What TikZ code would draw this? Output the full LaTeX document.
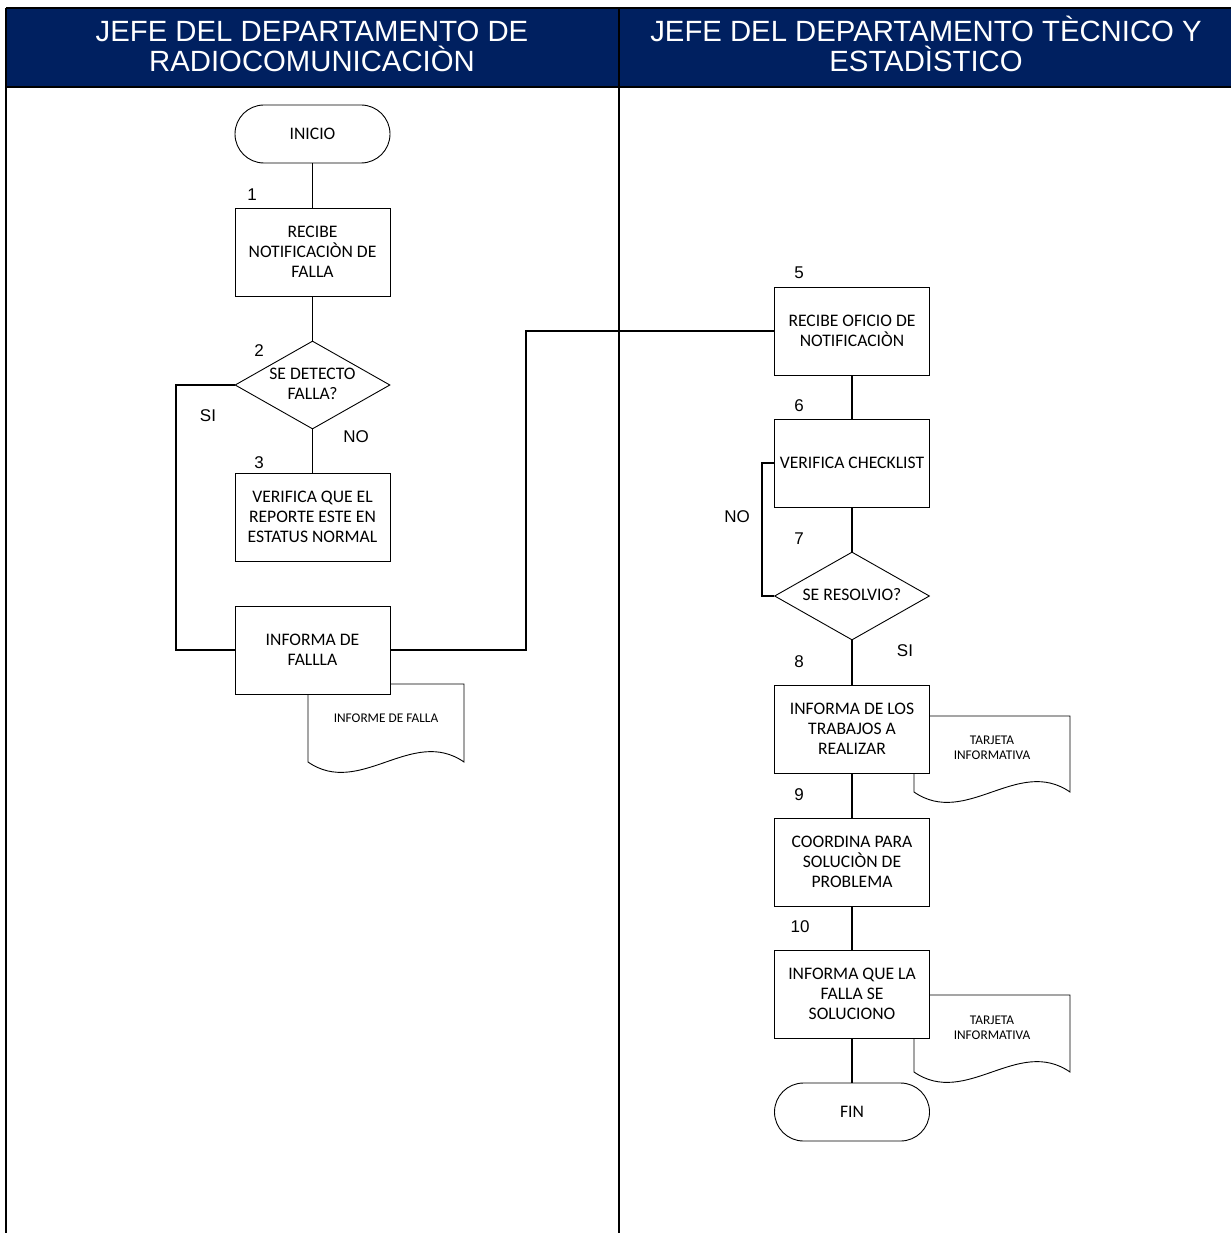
\documentclass[tikz,border=0pt]{standalone}
\usepackage{fontspec}
\setmainfont{Carlito}
\newfontfamily\arialf{Liberation Sans}
\usetikzlibrary{shapes.geometric}
\definecolor{navy}{RGB}{0,32,96}
\begin{document}
\begin{tikzpicture}[x=1pt,y=-1pt,
  lane/.style={line width=1.6pt,draw=black},
  box/.style={draw,line width=0.9pt,fill=white,minimum width=155pt,minimum height=88pt,inner sep=0pt,align=center,font=\fontsize{17.6}{20}\selectfont},
  term/.style={draw,line width=0.9pt,fill=white,rounded corners=29pt,minimum width=155pt,minimum height=58pt,inner sep=0pt,align=center,font=\fontsize{17.6}{20}\selectfont},
  dec/.style={draw,line width=0.9pt,fill=white,diamond,aspect=1.76,minimum width=155pt,minimum height=88pt,inner sep=0pt},
  txt/.style={align=center,inner sep=0pt,font=\fontsize{17.6}{20}\selectfont},
  num/.style={inner sep=0pt,font=\arialf\fontsize{17}{20}\selectfont},
  doctxt/.style={align=center,inner sep=0pt,font=\fontsize{13.3}{15}\selectfont},
  docshape/.style={draw,line width=0.9pt,fill=white},
  conn/.style={line width=1.6pt,draw=black},
  hdr/.style={align=center,inner sep=0pt,text=white,font=\arialf\fontsize{29.3}{30}\selectfont}
]
\useasboundingbox (0,0) rectangle (1231,1233);
% header
\fill[navy] (6,8) rectangle (1231,87);
\draw[lane] (6,8) -- (1231,8);
\draw[lane] (6,87) -- (1231,87);
\draw[lane] (6,8) -- (6,1233);
\draw[lane] (619,8) -- (619,1233);
\node[hdr] (h1) at (312,46.5) {JEFE DEL DEPARTAMENTO DE\\RADIOCOMUNICACIÒN};
\node[hdr] (h2) at (926,44) {JEFE DEL DEPARTAMENTO TÈCNICO Y\\ESTADÌSTICO};

% document shapes (behind boxes)
\draw[docshape] (308,684) -- (464,684) -- (464,762) .. controls (412,726) and (360,798) .. (308,762) -- cycle;
\node[doctxt] (doc4) at (386,718) {INFORME DE FALLA};
\draw[docshape] (914,716) -- (1070,716) -- (1070,792) .. controls (1018,756) and (966,828) .. (914,792) -- cycle;
\node[doctxt] (doc8) at (992,748) {TARJETA\\INFORMATIVA};
\draw[docshape] (914,995) -- (1070,995) -- (1070,1072) .. controls (1018,1036) and (966,1108) .. (914,1072) -- cycle;
\node[doctxt] (doc10) at (992,1028) {TARJETA\\INFORMATIVA};

% left lane
\node[term] (ini) at (312.5,134) {INICIO};
\node[box] (b1) at (312.5,252) {RECIBE\\NOTIFICACIÒN DE\\FALLA};
\node[dec] (d2) at (312.5,385) {};
\node[txt] (t2) at (312.5,384) {SE DETECTO\\FALLA?};
\node[box] (b3) at (312.5,517) {VERIFICA QUE EL\\REPORTE ESTE EN\\ESTATUS NORMAL};
\node[box] (b4) at (312.5,650) {INFORMA DE\\FALLLA};

\node[num] (n1) at (252,195) {1};
\node[num] (n2) at (259,351) {2};
\node[num] (n3) at (259,463) {3};
\node[num] (si1) at (208,416) {SI};
\node[num] (no1) at (356,437) {NO};

% right lane
\node[box] (b5) at (852,331) {RECIBE OFICIO DE\\NOTIFICACIÒN};
\node[box] (b6) at (852,463) {VERIFICA CHECKLIST};
\node[dec] (d7) at (852,596) {};
\node[txt] (t7) at (852,595) {SE RESOLVIO?};
\node[box] (b8) at (852,729) {INFORMA DE LOS\\TRABAJOS A\\REALIZAR};
\node[box] (b9) at (852,862) {COORDINA PARA\\SOLUCIÒN DE\\PROBLEMA};
\node[box] (b10) at (852,994) {INFORMA QUE LA\\FALLA SE\\SOLUCIONO};
\node[term] (fin) at (852,1112) {FIN};

\node[num] (n5) at (799,273) {5};
\node[num] (n6) at (799,406) {6};
\node[num] (n7) at (799,539) {7};
\node[num] (n8) at (799,662) {8};
\node[num] (n9) at (799,795) {9};
\node[num] (n10) at (800,927) {10};
\node[num] (no7) at (737,517) {NO};
\node[num] (si7) at (905,651) {SI};

% connectors
\coordinate (c1) at (176,385);
\coordinate (c2) at (526,650);
\coordinate (c3) at (762,596);
\draw[conn] (ini) -- (b1);
\draw[conn] (b1) -- (d2);
\draw[conn] (d2) -- (b3);
\draw[conn] (d2.west) -- (c1) |- (b4.west);
\draw[conn] (b4.east) -- (c2) |- (b5.west);
\draw[conn] (b5) -- (b6);
\draw[conn] (b6) -- (d7);
\draw[conn] (d7.west) -- (c3) |- (b6.west);
\draw[conn] (d7) -- (b8);
\draw[conn] (b8) -- (b9);
\draw[conn] (b9) -- (b10);
\draw[conn] (b10) -- (fin);
\end{tikzpicture}
\end{document}
